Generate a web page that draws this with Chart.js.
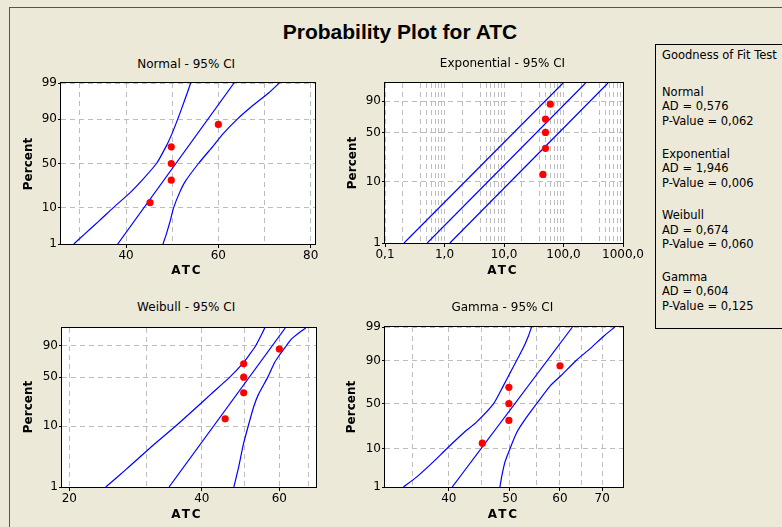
<!DOCTYPE html>
<html><head><meta charset="utf-8">
<script src="https://cdn.jsdelivr.net/npm/chart.js@4"></script>
<style>
html,body{margin:0;padding:0;background:#ECE9D8;width:782px;height:527px;overflow:hidden;position:relative;}
.frame{position:absolute;left:9px;top:7px;width:900px;height:700px;border-left:1px solid #555;border-top:1px solid #555;}
.legend{position:absolute;left:655px;top:44px;width:160px;height:283px;border:1px solid #000;}
.t{position:absolute;line-height:1;white-space:nowrap;color:#000;font-family:"DejaVu Sans",sans-serif;}
canvas{position:absolute;}
</style></head><body>
<div class="frame"></div>
<div class="legend"></div>
<script>
// ---------------- DATA ----------------
const chartTitle = 'Probability Plot for ATC';
const xAxisTitle = 'ATC';
const yAxisTitle = 'Percent';
const atcValues = [45.2, 49.8, 49.8, 49.8, 60.0];
const plottedPercents = [12.96, 31.48, 50.0, 68.52, 87.04];
const bandPercents = [1, 2, 5, 10, 20, 30, 50, 70, 80, 90, 95, 98, 99];
const fitPercents = [1, 99];

// Normal
const normalFit = [38.2, 63.4];
const normalBandLeft = [28.7, 30.9, 34.3, 37.2, 40.9, 43.2, 46.6, 48.8, 49.9, 51.2, 52.2, 53.3, 54.0];
const normalBandRight = [48.0, 48.7, 49.6, 50.3, 51.6, 52.8, 55.7, 59.0, 60.9, 64.1, 67.2, 71.0, 73.2];
// Exponential
const expFit = [0.513, 235];
const expBandLeft = [0.209, 98.4];
const expBandRight = [1.233, 560];
// Weibull
const weibullFit = [33.7, 61.9];
const weibullBandLeft = [24.2, 27.0, 31.1, 34.9, 39.1, 41.9, 46.3, 49.7, 51.2, 53.0, 54.0, 55.0, 55.6];
const weibullBandRight = [47.3, 48.4, 49.7, 51.0, 52.5, 53.8, 56.5, 58.5, 60.0, 62.2, 63.9, 66.8, 68.9];
// Gamma
const gammaFit = [40.5, 62.8];
const gammaBandLeft = [33.9, 35.6, 37.8, 39.7, 42.2, 44.3, 47.1, 48.8, 49.8, 51.2, 52.4, 53.5, 54.1];
const gammaBandRight = [48.2, 48.5, 49.1, 50.0, 51.2, 52.5, 55.1, 57.9, 60.3, 63.6, 66.9, 70.5, 73.3];

// Tick values / labels
const percentTicksFull = [1, 10, 50, 90, 99];
const percentTicksShort = [1, 10, 50, 90];
const normalXGrid = [30, 40, 50, 60, 70, 80];
const normalXLabelValues = [40, 60, 80];
const normalXLabels = ['40', '60', '80'];
const expXGrid = [0.1,0.2,0.4,0.5,0.6,0.7,0.8,0.9,1,2,4,5,6,7,8,9,10,20,40,50,60,70,80,90,100,200,400,500,600,700,800,900,1000];
const expXLabelValues = [0.1, 1, 10, 100, 1000];
const expXLabels = ['0,1', '1,0', '10,0', '100,0', '1000,0'];
const weibullXGrid = [20, 30, 40, 50, 60, 70];
const weibullXLabelValues = [20, 40, 60];
const weibullXLabels = ['20', '40', '60'];
const gammaXGrid = [35, 40, 45, 50, 55, 60, 65, 70];
const gammaXLabelValues = [40, 50, 60, 70];
const gammaXLabels = ['40', '50', '60', '70'];

// Goodness of fit table
const gofTitle = 'Goodness of Fit Test';
const distNames = ['Normal', 'Exponential', 'Weibull', 'Gamma'];
const adValues = ['0,576', '1,946', '0,674', '0,604'];
const pValues = ['0,062', '0,006', '0,060', '0,125'];

// ---------------- probability scales ----------------
function normInv(p) {
  const a=[-3.969683028665376e+01,2.209460984245205e+02,-2.759285104469687e+02,1.383577518672690e+02,-3.066479806614716e+01,2.506628277459239e+00];
  const b=[-5.447609879822406e+01,1.615858368580409e+02,-1.556989798598866e+02,6.680131188771972e+01,-1.328068155288572e+01];
  const c=[-7.784894002430293e-03,-3.223964580411365e-01,-2.400758277161838e+00,-2.549671660018582e+00,4.374664141464968e+00,2.938163982698783e+00];
  const d=[7.784695709041462e-03,3.224671290700398e-01,2.445134137142996e+00,3.754408661907416e+00];
  const pl=0.02425;
  let q,r;
  if (p<pl){q=Math.sqrt(-2*Math.log(p));return (((((c[0]*q+c[1])*q+c[2])*q+c[3])*q+c[4])*q+c[5])/((((d[0]*q+d[1])*q+d[2])*q+d[3])*q+1);}
  if (p<=1-pl){q=p-0.5;r=q*q;return (((((a[0]*r+a[1])*r+a[2])*r+a[3])*r+a[4])*r+a[5])*q/(((((b[0]*r+b[1])*r+b[2])*r+b[3])*r+b[4])*r+1);}
  q=Math.sqrt(-2*Math.log(1-p));return -(((((c[0]*q+c[1])*q+c[2])*q+c[3])*q+c[4])*q+c[5])/((((d[0]*q+d[1])*q+d[2])*q+d[3])*q+1);
}
const scaleNormal = p => normInv(p / 100);
const scaleSEV = p => Math.log(-Math.log(1 - p / 100));
const GAMMA_SHAPE = 89;
const scaleGamma = p => 3 * Math.log(1 - 1 / (9 * GAMMA_SHAPE) + normInv(p / 100) / (3 * Math.sqrt(GAMMA_SHAPE)));

Chart.defaults.font.family = '"DejaVu Sans", sans-serif';
Chart.defaults.font.size = 12;
Chart.defaults.color = '#000';

const framePlugin = {
  id: 'frame',
  beforeDraw(chart) {
    const a = chart.chartArea, c = chart.ctx;
    c.save(); c.fillStyle = '#fff';
    c.fillRect(a.left, a.top, a.right - a.left, a.bottom - a.top); c.restore();
  },
  afterDraw(chart) {
    const a = chart.chartArea, c = chart.ctx;
    c.save(); c.strokeStyle = '#000'; c.lineWidth = 1;
    c.strokeRect(a.left - 0.5, a.top - 0.5, a.right - a.left + 1, a.bottom - a.top + 1); c.restore();
  }
};

function makePanel(cfg) {
  const {L, T, R, B} = cfg.rect;
  const PL = 45, PT = 10, PR = 30, PB = 25;
  const w = R - L + PL + PR, h = B - T + PT + PB;
  const cv = document.createElement('canvas');
  cv.width = w; cv.height = h;
  cv.style.left = (L - PL) + 'px'; cv.style.top = (T - PT) + 'px';
  cv.style.width = w + 'px'; cv.style.height = h + 'px';
  document.body.appendChild(cv);
  const tf = cfg.yTransform;
  const pts = (xs, ps) => xs.map((x, i) => ({x: x, y: tf(ps[i])}));
  const line = (data, tension) => ({data, showLine: true, borderColor: '#0000ff', borderWidth: 1.2,
    pointRadius: 0, pointHoverRadius: 0, fill: false, tension: tension});
  const isLabeled = i => cfg.xLabelValues.some(v => Math.abs(v - cfg.xGrid[i]) < 1e-9);
  new Chart(cv, {
    type: 'scatter',
    data: {datasets: [
      {data: pts(atcValues, plottedPercents), pointRadius: 3.6, pointBackgroundColor: '#ff0000',
       pointBorderColor: '#ff0000', pointBorderWidth: 0, showLine: false},
      line(pts(cfg.fit, fitPercents), 0),
      line(pts(cfg.bandLeft, cfg.bandPercents), 0.2),
      line(pts(cfg.bandRight, cfg.bandPercents), 0.2)
    ]},
    options: {
      responsive: false, animation: false, events: [],
      layout: {padding: {left: 0, top: PT, right: PR, bottom: 0}},
      plugins: {legend: {display: false}, tooltip: {enabled: false}},
      scales: {
        x: {
          type: cfg.xType, min: cfg.xMin, max: cfg.xMax,
          afterBuildTicks: s => { s.ticks = cfg.xGrid.map(v => ({value: v})); },
          afterFit: s => { s.height = PB; s.paddingLeft = 0; s.paddingRight = 0; },
          ticks: {autoSkip: false, maxRotation: 0, minRotation: 0, padding: 1, color: '#000',
            font: {size: 12},
            callback: (v, i) => { const j = cfg.xLabelValues.findIndex(l => Math.abs(l - cfg.xGrid[i]) < 1e-9); return j >= 0 ? cfg.xLabels[j] : ''; }},
          grid: {color: '#bdbdbd', lineWidth: 1, drawTicks: true, tickLength: 4,
            tickColor: ctx => isLabeled(ctx.index) ? '#000' : 'rgba(0,0,0,0)'},
          border: {display: false, dash: [5, 4]}
        },
        y: {
          type: 'linear', min: tf(1), max: tf(99),
          afterBuildTicks: s => { s.ticks = cfg.yTicks.map(p => ({value: tf(p)})); },
          afterFit: s => { s.width = PL; s.paddingTop = 0; s.paddingBottom = 0; },
          ticks: {autoSkip: false, padding: 1, color: '#000', font: {size: 12},
            callback: (v, i) => String(cfg.yTicks[i])},
          grid: {color: '#bdbdbd', lineWidth: 1, drawTicks: true, tickLength: 3, tickColor: '#000'},
          border: {display: false, dash: [5, 4]}
        }
      }
    },
    plugins: [framePlugin]
  });
}

makePanel({rect: {L: 61, T: 83, R: 315, B: 244}, yTransform: scaleNormal, yTicks: percentTicksFull,
  xType: 'linear', xMin: 25.92, xMax: 80.93, xGrid: normalXGrid, xLabelValues: normalXLabelValues, xLabels: normalXLabels,
  fit: normalFit, bandLeft: normalBandLeft, bandRight: normalBandRight, bandPercents: bandPercents});
makePanel({rect: {L: 385, T: 83, R: 623, B: 243}, yTransform: scaleSEV, yTicks: percentTicksShort,
  xType: 'logarithmic', xMin: 0.1, xMax: 1000, xGrid: expXGrid, xLabelValues: expXLabelValues, xLabels: expXLabels,
  fit: expFit, bandLeft: expBandLeft, bandRight: expBandRight, bandPercents: fitPercents});
makePanel({rect: {L: 62, T: 328, R: 316, B: 487}, yTransform: scaleSEV, yTicks: percentTicksShort,
  xType: 'logarithmic', xMin: 19.25, xMax: 72.7, xGrid: weibullXGrid, xLabelValues: weibullXLabelValues, xLabels: weibullXLabels,
  fit: weibullFit, bandLeft: weibullBandLeft, bandRight: weibullBandRight, bandPercents: bandPercents});
makePanel({rect: {L: 385, T: 327, R: 623, B: 487}, yTransform: scaleGamma, yTicks: percentTicksFull,
  xType: 'logarithmic', xMin: 31.7, xMax: 75.5, xGrid: gammaXGrid, xLabelValues: gammaXLabelValues, xLabels: gammaXLabels,
  fit: gammaFit, bandLeft: gammaBandLeft, bandRight: gammaBandRight, bandPercents: bandPercents});

// ---------------- text ----------------
function addText(txt, x, baseline, size, opts) {
  opts = opts || {};
  const d = document.createElement('div');
  d.className = 't';
  d.textContent = txt;
  d.style.fontSize = size + 'px';
  if (opts.bold) d.style.fontWeight = 'bold';
  if (opts.family) d.style.fontFamily = opts.family;
  if (opts.spacing) d.style.letterSpacing = opts.spacing + 'px';
  d.style.left = x + 'px';
  d.style.top = (baseline - 0.846 * size) + 'px';
  if (opts.center) d.style.transform = 'translateX(-50%)';
  document.body.appendChild(d);
  return d;
}
function addVText(txt, cx, cy, size) {
  const d = document.createElement('div');
  d.className = 't';
  d.textContent = txt;
  d.style.fontSize = size + 'px';
  d.style.fontWeight = 'bold';
  d.style.left = cx + 'px';
  d.style.top = cy + 'px';
  d.style.transform = 'translate(-50%,-50%) rotate(-90deg)';
  document.body.appendChild(d);
}

addText(chartTitle, 400, 38.3, 21, {bold: true, center: true, family: '"Liberation Sans", Arial, sans-serif'});
const panelTitles = [[distNames[0], 186.2, 67.7], [distNames[1], 502.5, 67.3], [distNames[2], 186.2, 310.7], [distNames[3], 502.3, 310.7]];
panelTitles.forEach(p => addText(p[0] + ' - 95% CI', p[1], p[2], 12, {center: true}));
[[28.3, 163.7], [351.5, 163.3], [28.3, 406.7], [351, 406.7]].forEach(p => addVText(yAxisTitle, p[0], p[1], 12));
[[187, 274.3], [503, 274.3], [187, 518.3], [503.5, 518.3]].forEach(p => addText(xAxisTitle, p[0], p[1], 12, {bold: true, center: true, spacing: 2}));

addText(gofTitle, 662, 59.3, 11.5);
const groupBase = [96.7, 158.3, 220, 281.7];
distNames.forEach((n, i) => {
  addText(n, 662, groupBase[i], 11.5);
  addText('AD = ' + adValues[i], 662, groupBase[i] + 14.4, 11.5);
  addText('P-Value = ' + pValues[i], 662, groupBase[i] + 29, 11.5);
});
</script>
</body></html>
